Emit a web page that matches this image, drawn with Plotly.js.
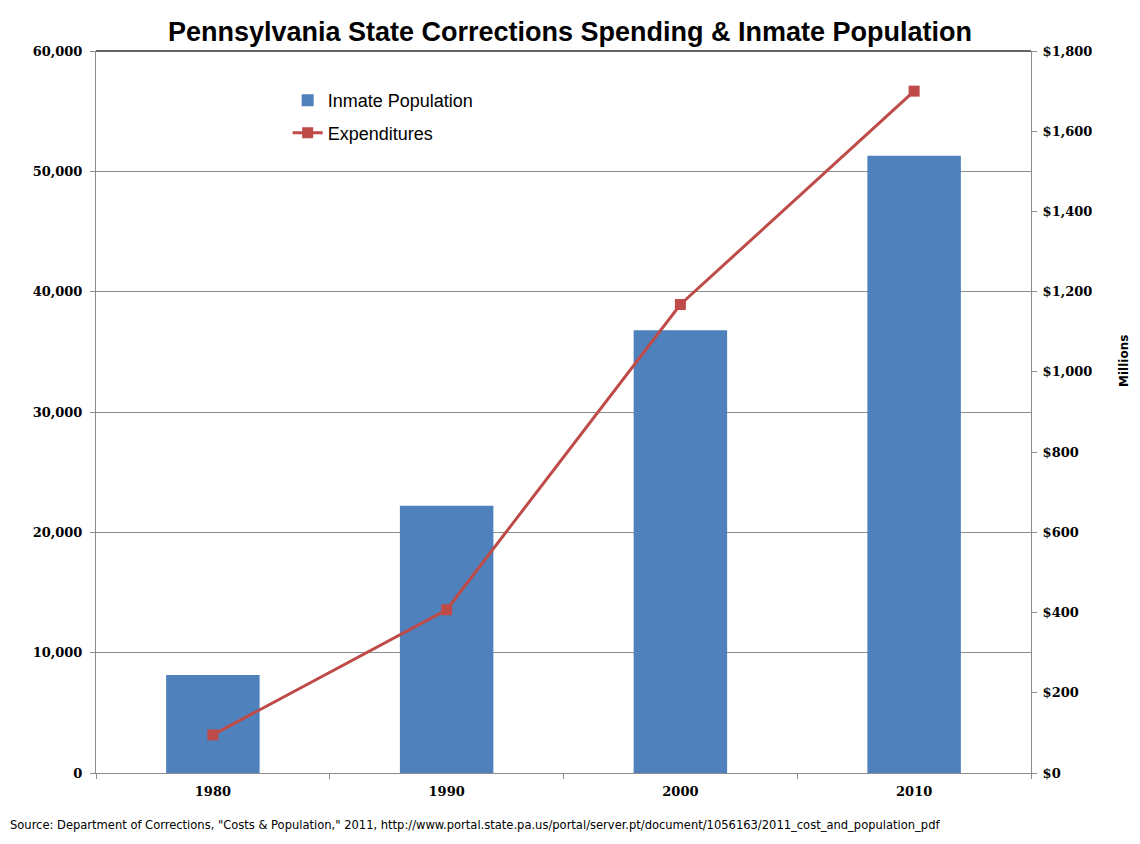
<!DOCTYPE html>
<html>
<head>
<meta charset="utf-8">
<script src="https://cdn.plot.ly/plotly-3.0.1.min.js"></script>
<style>html,body{margin:0;padding:0;background:#fff;}#chart{width:1140px;height:844px;}</style>
</head>
<body>
<div id="chart"></div>
<script>
var years = ["1980", "1990", "2000", "2010"];
var inmatePopulation = [8150, 22200, 36800, 51300];
var expendituresMillions = [95, 407, 1168, 1700];

var tickFont = {family: "DejaVu Serif, serif", size: 13, color: "#000", weight: "bold"};

var traces = [
  {
    type: "bar", name: "Inmate Population", x: years, y: inmatePopulation,
    marker: {color: "#4f81bd"}, yaxis: "y", legendgroup: "a"
  },
  {
    type: "scatter", mode: "lines+markers", name: "Expenditures", x: years, y: expendituresMillions,
    line: {color: "#be4b48", width: 3}, marker: {symbol: "square", size: 11, color: "#be4b48"},
    yaxis: "y2", legendgroup: "b"
  }
];

var layout = {
  width: 1140, height: 844,
  paper_bgcolor: "#fff", plot_bgcolor: "#fff",
  margin: {l: 96, r: 109, t: 51, b: 71},
  bargap: 0.6,
  showlegend: true,
  title: {text: "<b>Pennsylvania State Corrections Spending &amp; Inmate Population</b>",
    font: {family: "Liberation Sans, Arial, sans-serif", size: 27, color: "#000"},
    x: 0.5, xanchor: "center", y: 0.963, yanchor: "middle"},
  legend: {x: 0.205, y: 0.957, xanchor: "left", yanchor: "top", bgcolor: "rgba(0,0,0,0)",
    font: {family: "Liberation Sans, Arial, sans-serif", size: 18, color: "#000"},
    tracegroupgap: 6, itemwidth: 30},
  xaxis: {type: "category", showgrid: false, showline: true, linecolor: "#8c8c8c", linewidth: 1,
    ticks: "outside", tickson: "boundaries", ticklen: 5, tickcolor: "#8c8c8c",
    tickfont: tickFont, zeroline: false, ticklabelstandoff: 6},
  yaxis: {range: [0, 60000], dtick: 10000, tickformat: ",d", showgrid: true, gridcolor: "#8c8c8c",
    gridwidth: 1, showline: true, linecolor: "#8c8c8c", ticks: "outside", ticklen: 5, tickcolor: "#8c8c8c",
    tickfont: tickFont, zeroline: false, ticklabelstandoff: 5},
  yaxis2: {overlaying: "y", side: "right", range: [0, 1800], dtick: 200, tickprefix: "$", tickformat: ",d",
    showgrid: false, showline: true, linecolor: "#8c8c8c", ticks: "outside", ticklen: 5, tickcolor: "#8c8c8c",
    tickfont: tickFont, zeroline: false, ticklabelstandoff: 3},
  shapes: [
    {type: "line", xref: "paper", yref: "paper", x0: 0, x1: 1, y0: 1, y1: 1, line: {color: "#333", width: 1.5}}
  ],
  annotations: [
    {text: "<b>Millions</b>", xref: "paper", yref: "paper", x: 1.1, y: 0.57, xanchor: "center", yanchor: "middle",
      textangle: -90, showarrow: false, font: {family: "DejaVu Sans, sans-serif", size: 12, color: "#000"}},
    {text: "Source: Department of Corrections, \"Costs &amp; Population,\" 2011, http://www.portal.state.pa.us/portal/server.pt/document/1056163/2011_cost_and_population_pdf",
      xref: "paper", yref: "paper", x: -0.094, y: -0.072, xanchor: "left", yanchor: "middle",
      showarrow: false, font: {family: "DejaVu Sans Condensed, DejaVu Sans, sans-serif", size: 12.8, color: "#000"}}
  ]
};

Plotly.newPlot("chart", traces, layout, {displayModeBar: false, staticPlot: true});
</script>
</body>
</html>
